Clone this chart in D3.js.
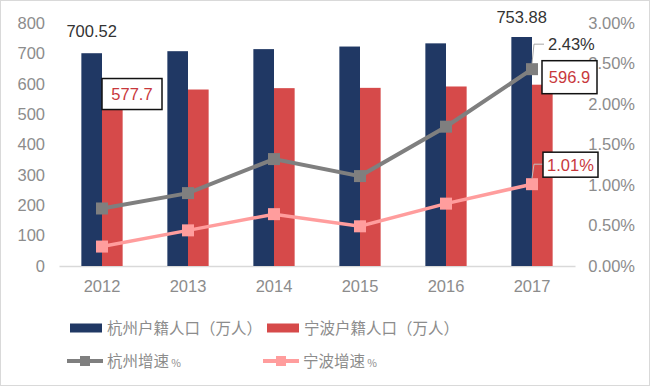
<!DOCTYPE html>
<html>
<head>
<meta charset="utf-8">
<script src="https://cdn.jsdelivr.net/npm/d3@7"></script>
<style>
  body { margin: 0; background: #fff; }
  svg { display: block; font-family: "Liberation Sans", Arial, sans-serif; }
  .cjk { font-family: "Noto Sans CJK SC", "Liberation Sans", sans-serif; }
</style>
</head>
<body>
<div id="chart"></div>
<script>
// Data
const years = ["2012", "2013", "2014", "2015", "2016", "2017"];
const hzPop = [700.52, 707.2, 714.0, 722.5, 733.0, 753.88];
const nbPop = [577.7, 581.0, 585.5, 586.5, 591.0, 596.9];
const hzRate = [0.71, 0.90, 1.32, 1.11, 1.72, 2.43];
const nbRate = [0.24, 0.44, 0.64, 0.49, 0.77, 1.01];
const leftTicks = [0, 100, 200, 300, 400, 500, 600, 700, 800];
const rightTicks = [0, 0.5, 1, 1.5, 2, 2.5, 3];
const seriesNames = ["杭州户籍人口（万人）", "宁波户籍人口（万人）", "杭州增速 %", "宁波增速 %"];

const width = 650, height = 386;
const margin = {top: 23, right: 75, bottom: 120, left: 59};
const colors = {hz: "#203864", nb: "#d64a4a", hzLine: "#7f7f7f", nbLine: "#ff9d9d"};

const svg = d3.select("#chart").append("svg")
  .attr("width", width).attr("height", height);

// outer frame
svg.append("rect")
  .attr("x", 0.5).attr("y", 0.5)
  .attr("width", width - 1).attr("height", height - 1)
  .attr("fill", "none").attr("stroke", "#d9d9d9");

// Scales
const x = d3.scaleBand().domain(years).range([margin.left, width - margin.right]);
const xs = d3.scaleBand().domain(["hz", "nb"]).range([x.bandwidth() * 0.26, x.bandwidth() * 0.74]);
const y = d3.scaleLinear().domain([0, 800]).range([height - margin.bottom, margin.top]);
const y2 = d3.scaleLinear().domain([0, 3]).range([height - margin.bottom, margin.top]);

// Axes
const tickColor = "#8c8c8c";
const yAxis = svg.append("g")
  .attr("transform", `translate(${margin.left - 14},0)`)
  .call(d3.axisLeft(y).tickValues(leftTicks).tickSize(0).tickPadding(0));
yAxis.select(".domain").remove();
yAxis.selectAll("text").attr("fill", tickColor).style("font-size", "16.5px");

const y2Axis = svg.append("g")
  .attr("transform", `translate(${width - 15},0)`)
  .call(d3.axisLeft(y2).tickValues(rightTicks).tickSize(0).tickPadding(0)
    .tickFormat(d => d.toFixed(2) + "%"));
y2Axis.select(".domain").remove();
y2Axis.selectAll("text").attr("fill", tickColor).style("font-size", "16.5px");

const xAxis = svg.append("g")
  .attr("transform", `translate(0,${height - margin.bottom})`)
  .call(d3.axisBottom(x).tickSize(0).tickPadding(14));
xAxis.select(".domain").attr("stroke", "#d9d9d9").attr("stroke-width", 1.5);
xAxis.selectAll("text").attr("fill", tickColor).style("font-size", "16.5px");

// Bars
const groups = svg.append("g").selectAll("g")
  .data(years).join("g")
  .attr("transform", d => `translate(${x(d)},0)`);

groups.append("rect")
  .attr("x", xs("hz")).attr("width", xs.bandwidth())
  .attr("y", (d, i) => y(hzPop[i]))
  .attr("height", (d, i) => y(0) - y(hzPop[i]))
  .attr("fill", colors.hz);

groups.append("rect")
  .attr("x", xs("nb")).attr("width", xs.bandwidth())
  .attr("y", (d, i) => y(nbPop[i]))
  .attr("height", (d, i) => y(0) - y(nbPop[i]))
  .attr("fill", colors.nb);

// Lines
const cx = d => x(d) + x.bandwidth() / 2;
function drawLine(vals, color, w, size) {
  const line = d3.line().x((d, i) => cx(years[i])).y(d => y2(d));
  svg.append("path").datum(vals)
    .attr("d", line).attr("fill", "none")
    .attr("stroke", color).attr("stroke-width", w);
  svg.append("g").selectAll("rect").data(vals).join("rect")
    .attr("x", (d, i) => cx(years[i]) - size / 2)
    .attr("y", d => y2(d) - size / 2)
    .attr("width", size).attr("height", size)
    .attr("fill", color);
}
drawLine(hzRate, colors.hzLine, 4, 12);
drawLine(nbRate, colors.nbLine, 3.5, 12);

// Data labels
const last = years.length - 1;
const hzX = i => x(years[i]) + xs("hz") + xs.bandwidth() / 2;
const nbX = i => x(years[i]) + xs("nb");

svg.append("text").text(hzPop[0].toFixed(2))
  .attr("x", hzX(0)).attr("y", y(hzPop[0]) - 16)
  .attr("text-anchor", "middle").attr("fill", "#333").style("font-size", "16.5px");
svg.append("text").text(hzPop[last].toFixed(2))
  .attr("x", hzX(last)).attr("y", y(hzPop[last]) - 14)
  .attr("text-anchor", "middle").attr("fill", "#333").style("font-size", "16.5px");

function boxLabel(txt, bx, by, w, h) {
  svg.append("rect")
    .attr("x", bx).attr("y", by).attr("width", w).attr("height", h)
    .attr("fill", "#fff").attr("stroke", "#111").attr("stroke-width", 1.5);
  svg.append("text").text(txt)
    .attr("x", bx + w / 2).attr("y", by + h / 2 + 6)
    .attr("text-anchor", "middle").attr("fill", "#c8383c").style("font-size", "16.5px");
}
boxLabel(nbPop[0].toFixed(1), nbX(0), y(nbPop[0]) - 12, 60, 31);
boxLabel(nbPop[last].toFixed(1), nbX(last) + 10, y(nbPop[last]) - 24, 55, 33);

// 2.43% leader + label
const p1x = cx(years[last]), p1y = y2(hzRate[last]);
svg.append("path")
  .attr("d", `M${p1x},${p1y - 6}L${p1x + 2},${p1y - 25}L${p1x + 12},${p1y - 25}`)
  .attr("fill", "none").attr("stroke", "#a6a6a6").attr("stroke-width", 1);
svg.append("text").text(hzRate[last].toFixed(2) + "%")
  .attr("x", p1x + 16).attr("y", p1y - 19)
  .attr("fill", "#333").style("font-size", "16.5px");

// 1.01% leader + boxed label
const p2x = cx(years[last]), p2y = y2(nbRate[last]);
svg.append("path")
  .attr("d", `M${p2x},${p2y - 6}L${p2x + 2},${p2y - 20}L${p2x + 11},${p2y - 20}`)
  .attr("fill", "none").attr("stroke", "#bfbfbf").attr("stroke-width", 1);
boxLabel(nbRate[last].toFixed(2) + "%", p2x + 11, p2y - 32, 55, 25);

// Legend
const legend = svg.append("g").attr("class", "cjk");
const legPos = [[70, 328], [267, 328], [67, 361], [263, 361]];
const legKinds = ["bar", "bar", "line", "line"];
const legColors = [colors.hz, colors.nb, colors.hzLine, colors.nbLine];
seriesNames.forEach((name, i) => {
  const [lx, ly] = legPos[i];
  if (legKinds[i] === "bar") {
    legend.append("rect").attr("x", lx).attr("y", ly - 4.5)
      .attr("width", 32).attr("height", 9).attr("fill", legColors[i]);
  } else {
    legend.append("line").attr("x1", lx).attr("x2", lx + 36)
      .attr("y1", ly).attr("y2", ly)
      .attr("stroke", legColors[i]).attr("stroke-width", 4);
    legend.append("rect").attr("x", lx + 13).attr("y", ly - 5)
      .attr("width", 10).attr("height", 10).attr("fill", legColors[i]);
  }
  const parts = name.split(" ");
  const t = legend.append("text")
    .attr("x", lx + (legKinds[i] === "bar" ? 37 : 40)).attr("y", ly + 6)
    .attr("fill", "#8c8c8c").style("font-size", "15.5px");
  t.append("tspan").text(parts[0]);
  if (parts[1]) t.append("tspan").text(" " + parts[1]).style("font-size", "10.5px");
});
</script>
</body>
</html>
